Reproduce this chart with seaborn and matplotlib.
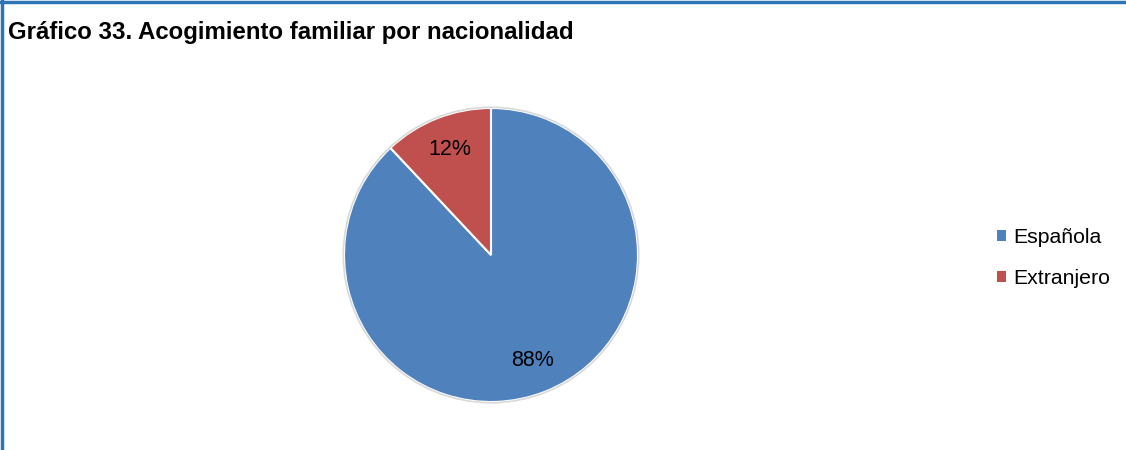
import matplotlib
matplotlib.use("Agg")
import matplotlib.pyplot as plt
import seaborn as sns
from matplotlib.patches import Patch
from matplotlib.lines import Line2D

# datos
categorias = ["Española", "Extranjero"]
porcentajes = [88, 12]
colores = ["#4F81BD", "#C0504D"]

sns.set_style("white")
plt.rcParams["font.family"] = ["Liberation Sans", "DejaVu Sans"]
plt.rcParams["text.color"] = "black"

fig = plt.figure(figsize=(11.26, 4.5), dpi=100)

# tarta centrada en (491, 255) px, radio 147 px
lim = 1.02
cx, cy, r = 491 / 1126, 1 - 255 / 450, 147 * lim
ax = fig.add_axes([cx - r / 1126, cy - r / 450, 2 * r / 1126, 2 * r / 450])
wedges, textos, autotextos = ax.pie(
    porcentajes, colors=sns.color_palette(colores), startangle=90, counterclock=False,
    autopct="%d%%", pctdistance=0.77,
    wedgeprops={"edgecolor": "white", "linewidth": 1.5},
    textprops={"fontsize": 15.5, "color": "black"},
)
# contorno gris suave
ax.add_patch(plt.Circle((0, 0), 1.005, fill=False, edgecolor="#d9d9d9", lw=1.2))
ax.set_xlim(-lim, lim)
ax.set_ylim(-lim, lim)
ax.axis("off")

fig.text(8 / 1126, 1 - 32 / 450, "Gráfico 33. Acogimiento familiar por nacionalidad",
         fontsize=17.3, fontweight="bold", va="center", ha="left", color="black")

handles = [Patch(facecolor=c, edgecolor="none") for c in colores]
fig.legend(handles, categorias, loc="center left", bbox_to_anchor=(978 / 1126, 1 - 258 / 450),
           frameon=False, fontsize=15.3, handlelength=0.42, handleheight=0.42,
           handletextpad=0.32, labelspacing=1.0, labelcolor="black")

# borde azul arriba e izquierda
fig.add_artist(Line2D([0, 1], [1 - 1.5 / 450] * 2, color="#2E75B6", lw=2.5, transform=fig.transFigure))
fig.add_artist(Line2D([1.5 / 1126] * 2, [0, 1], color="#2E75B6", lw=2.5, transform=fig.transFigure))

fig.savefig("out.png", dpi=100)
